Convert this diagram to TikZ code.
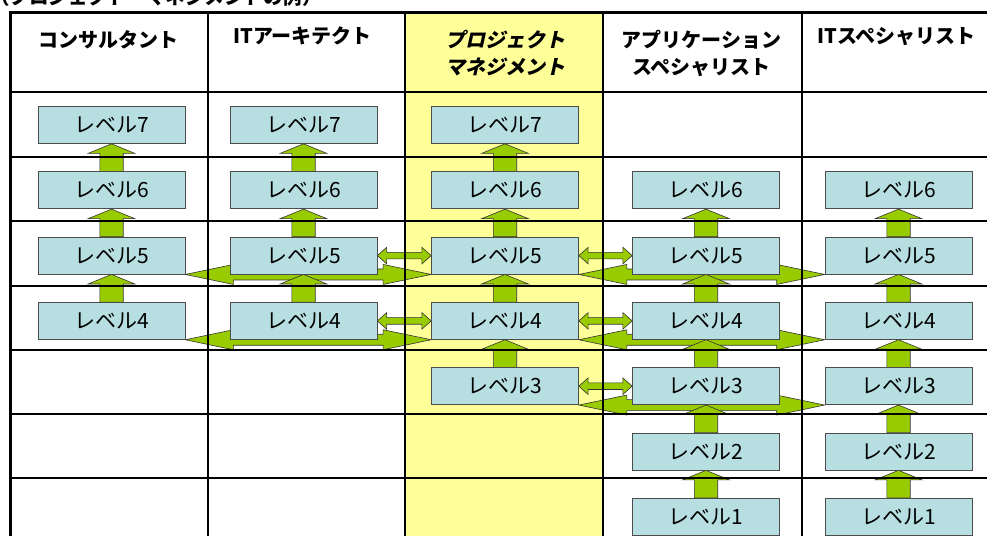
\documentclass[tikz,border=0pt]{standalone}
\usepackage{fontspec}
\setmainfont{Noto Sans CJK JP}
\newfontfamily\pmslant{Noto Sans CJK JP}[FakeSlant=0.22]
\usetikzlibrary{calc}

\definecolor{lvblue}{RGB}{183,222,225}
\definecolor{lvgreen}{RGB}{153,204,0}
\definecolor{pmyellow}{RGB}{255,255,153}

\pgfdeclarelayer{back}
\pgfdeclarelayer{arrows}
\pgfdeclarelayer{grid}
\pgfsetlayers{back,arrows,grid,main}

\tikzset{
  lvbox/.style={draw=black!70, line width=0.7pt, fill=lvblue, minimum width=147pt,
    minimum height=37pt, inner sep=0pt, font=\fontsize{21}{21}\selectfont},
  lvarrow/.style={fill=lvgreen, draw=black!80, line width=0.6pt},
  head/.style={anchor=north, inner sep=0pt, align=center,
    font=\fontsize{20}{27}\selectfont\bfseries},
  pmhead/.style={head, font=\fontsize{20}{27}\selectfont\pmslant\bfseries}
}

\begin{document}
\begin{tikzpicture}[x=1pt,y=-1pt]
\useasboundingbox (0,0) rectangle (987,535);

% fat up arrow from box #1 to box #2, shifted by #3
\def\uparr#1#2#3{\draw[lvarrow, xshift=#3] let \p1=(#1.north), \p2=(#2.south) in
  (\x1-11.7pt,\y1) -- (\x1-11.7pt,\y2-9.5pt) -- (\x1-23.3pt,\y2-9.5pt) -- (\x1,\y2)
  -- (\x1+23.3pt,\y2-9.5pt) -- (\x1+11.7pt,\y2-9.5pt) -- (\x1+11.7pt,\y1) -- cycle;}
% short two-way arrow between neighbours
\def\pairarr#1#2{\draw[lvarrow, yshift=5.6pt] let \p1=(#1.east), \p2=(#2.west) in
  (\x1,\y1) -- (\x1+9.3pt,\y1+8.3pt) -- (\x1+9.3pt,\y1+3.3pt) -- (\x2-9.3pt,\y1+3.3pt)
  -- (\x2-9.3pt,\y1+8.3pt) -- (\x2,\y1) -- (\x2-9.3pt,\y1-8.3pt) -- (\x2-9.3pt,\y1-3.3pt)
  -- (\x1+9.3pt,\y1-3.3pt) -- (\x1+9.3pt,\y1-8.3pt) -- cycle;}
% long flat two-way arrow under a box
\def\spanarr#1#2{\draw[lvarrow] let \p1=(#1.south east), \p2=(#2.south west) in
  (\x1,\y1) -- (\x1+48pt,\y1+10pt) -- (\x1+48pt,\y1+5.5pt) -- (\x2-48pt,\y1+5.5pt)
  -- (\x2-48pt,\y1+10pt) -- (\x2,\y1) -- (\x2-48pt,\y1-10pt) -- (\x2-48pt,\y1-5.5pt)
  -- (\x1+48pt,\y1-5.5pt) -- (\x1+48pt,\y1-10pt) -- cycle;}

\node[font=\fontsize{19.5}{22}\selectfont\bfseries, anchor=base west, inner sep=0pt] (title)
  at (-10,5) {（プロジェクト・マネジメントの例）};

% headers
\node[head] (hcon) at (108.5,30) {コンサルタント};
\node[head] (harc) at (302.5,27) {ITアーキテクト};
\node[pmhead] (hpm) at (505,30) {プロジェクト\\マネジメント};
\node[head] (happ) at (701.5,30) {アプリケーション\\スペシャリスト};
\node[head] (hspc) at (896.5,27) {ITスペシャリスト};

% level boxes
\foreach \col/\x/\lo/\hi in {con/111.5/4/7, arc/303.5/4/7, pm/505/3/7, app/706/1/6, spc/898.5/1/6}
  \foreach \lv in {\lo,...,\hi}
    \node[lvbox] (\col\lv) at (\x,{125+(7-\lv)*65.3}) {レベル\lv};

\begin{pgfonlayer}{back}
\fill[pmyellow] (405,13) rectangle (603,540);
\end{pgfonlayer}

\begin{pgfonlayer}{arrows}
\spanarr{con5}{pm5}
\spanarr{pm5}{spc5}
\spanarr{con4}{pm4}
\spanarr{pm4}{spc4}
\spanarr{pm3}{spc3}
\foreach \col/\lo/\hi/\dx in {con/4/6/-4.5, arc/4/6/-4.5, pm/3/6/-4.5, app/1/5/-8.5, spc/1/5/-8.5}
  \foreach \lv in {\lo,...,\hi}{
    \pgfmathtruncatemacro\up{\lv+1}
    \uparr{\col\lv}{\col\up}{\dx pt}
  }
\pairarr{arc5}{pm5}
\pairarr{pm5}{app5}
\pairarr{arc4}{pm4}
\pairarr{pm4}{app4}
\pairarr{pm3}{app3}
\end{pgfonlayer}

\begin{pgfonlayer}{grid}
\foreach \x in {208,405,603,802}
  \draw[line width=2pt] (\x,13) -- (\x,540);
\foreach \y in {92,157,221,286,350,414,478}
  \draw[line width=2pt] (10,\y) -- (990,\y);
\draw[line width=3pt] (10,540) -- (10,13) -- (990,13);
\end{pgfonlayer}

\end{tikzpicture}
\end{document}
